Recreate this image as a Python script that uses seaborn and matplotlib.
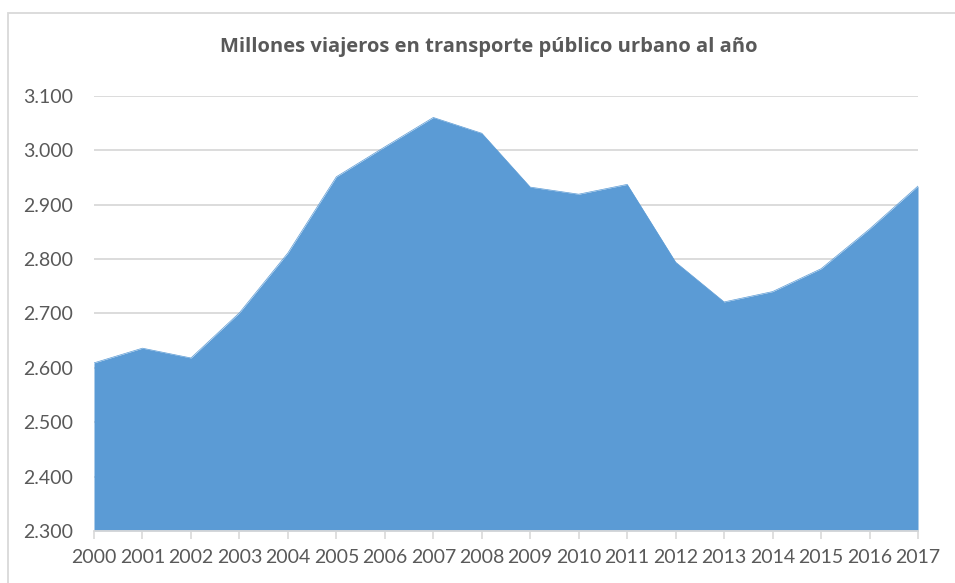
import matplotlib
matplotlib.use('Agg')
import matplotlib.pyplot as plt
import matplotlib.patches as mpatches
from matplotlib.ticker import FuncFormatter, MultipleLocator
import seaborn as sns
import pandas as pd

# Datos (millones de viajeros)
anios = list(range(2000, 2018))
viajeros = [2609, 2636, 2618, 2701, 2811, 2951, 3006, 3060, 3031,
            2932, 2919, 2937, 2794, 2721, 2740, 2782, 2855, 2934]
titulo = 'Millones viajeros en transporte público urbano al año'

COLOR_AREA = '#5B9BD5'
COLOR_TEXTO = '#595959'
COLOR_GRID = '#D9D9D9'

sns.set_style('white')
plt.rcParams['font.family'] = ['Lato', 'DejaVu Sans']

df = pd.DataFrame({'Año': anios, 'Viajeros': viajeros})

fig = plt.figure(figsize=(9.55, 5.83), dpi=100)
ax = fig.add_axes([94 / 955, 1 - 531 / 583, (918 - 94) / 955, (531 - 95.7) / 583])

sns.lineplot(data=df, x='Año', y='Viajeros', ax=ax, color=COLOR_AREA, linewidth=0.5)
ax.fill_between(df['Año'], df['Viajeros'], 2300, color=COLOR_AREA, linewidth=0, zorder=2)

ax.set_xlim(2000, 2017)
ax.set_ylim(2300, 3100)
ax.yaxis.set_major_locator(MultipleLocator(100))
ax.yaxis.set_major_formatter(FuncFormatter(lambda v, p: f'{int(v):,}'.replace(',', '.')))
ax.set_xticks(anios)
ax.set_xticklabels([str(a) for a in anios])

ax.grid(axis='y', color=COLOR_GRID, linewidth=1.3, zorder=0)
ax.set_axisbelow(True)
for s in ['top', 'right', 'left']:
    ax.spines[s].set_visible(False)
ax.spines['bottom'].set_color(COLOR_GRID)
ax.spines['bottom'].set_linewidth(1.3)
ax.spines['bottom'].set_zorder(3)

ax.tick_params(axis='x', colors=COLOR_TEXTO, labelsize=14, length=6, width=1.2,
               color=COLOR_GRID, pad=7, direction='out', bottom=True)
ax.tick_params(axis='y', colors=COLOR_TEXTO, labelsize=14, length=0, pad=15)
ax.set_xlabel('')
ax.set_ylabel('')

# el titulo en negrita con Open Sans (Lato no trae bold)
fig.text(489 / 955, 1 - 47 / 583, titulo, ha='center', va='center',
         fontsize=14.5, fontweight='bold', color=COLOR_TEXTO,
         family=['Open Sans', 'DejaVu Sans'])

# Borde del grafico (estilo Excel)
borde = mpatches.Rectangle((8 / 955, -0.1), 1.2, 1 - 13 / 583 + 0.1, transform=fig.transFigure,
                           fill=False, edgecolor=COLOR_GRID, linewidth=1.3)
fig.patches.append(borde)

fig.savefig('out.png', dpi=100)
plt.close(fig)
